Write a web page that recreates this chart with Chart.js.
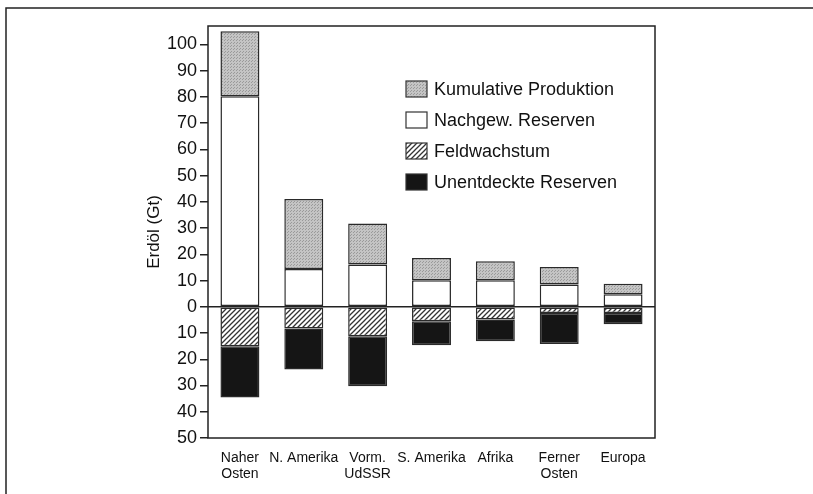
<!DOCTYPE html>
<html>
<head>
<meta charset="utf-8">
<script src="https://cdn.jsdelivr.net/npm/chart.js@4/dist/chart.umd.min.js"></script>
<style>
  body { margin: 0; background: #fff; }
  #wrap { width: 813px; height: 494px; }
</style>
</head>
<body>
<div id="wrap"><canvas id="chart" width="813" height="494"></canvas></div>
<script>
// Erdöl nach Regionen (Gt)
const regions = [['Naher', 'Osten'], 'N. Amerika', ['Vorm.', 'UdSSR'], 'S. Amerika', 'Afrika', ['Ferner', 'Osten'], 'Europa'];
const nachgewReserven = [80.2, 14.4, 16.1, 10.1, 10.1, 8.5, 4.8];
const kumulativeProduktion = [24.8, 26.7, 15.6, 8.5, 7.3, 6.7, 4.0];
const feldwachstum = [-15.0, -8.3, -11.2, -5.5, -4.8, -2.4, -2.4];
const unentdeckt = [-19.6, -15.6, -19.1, -9.2, -8.3, -11.8, -4.3];
const tickValues = [-50, -40, -30, -20, -10, 0, 10, 20, 30, 40, 50, 60, 70, 80, 90, 100];

const FONT = '"Liberation Sans", Arial, Helvetica, sans-serif';

// dotted grey fill for cumulative production
function dotPattern() {
    const c = document.createElement('canvas');
    c.width = 3; c.height = 3;
    const g = c.getContext('2d');
    g.fillStyle = '#c4c4c4';
    g.fillRect(0, 0, 3, 3);
    g.fillStyle = '#9a9a9a';
    g.fillRect(0, 0, 1, 1);
    g.fillRect(2, 1, 1, 1);
    return g.createPattern(c, 'repeat');
}

// diagonal hatching for field growth
function hatchPattern() {
    const c = document.createElement('canvas');
    c.width = 5; c.height = 5;
    const g = c.getContext('2d');
    g.fillStyle = '#fff';
    g.fillRect(0, 0, 5, 5);
    g.strokeStyle = '#333';
    g.lineWidth = 1.3;
    g.beginPath();
    g.moveTo(-1, 6); g.lineTo(6, -1);
    g.moveTo(-1, 1); g.lineTo(1, -1);
    g.moveTo(4, 6); g.lineTo(6, 4);
    g.stroke();
    return g.createPattern(c, 'repeat');
}

const legendOrder = [1, 0, 2, 3];

// frame lines, plot box and legend
const framePlugin = {
    id: 'frame',
    beforeDraw(chart) {
        const ctx = chart.ctx;
        ctx.save();
        ctx.fillStyle = '#fff';
        ctx.fillRect(0, 0, chart.width, chart.height);
        ctx.strokeStyle = '#222';
        ctx.lineWidth = 1.5;
        ctx.beginPath();
        ctx.moveTo(6, 494); ctx.lineTo(6, 8); ctx.lineTo(813, 8);
        ctx.stroke();
        ctx.restore();
    },
    afterDraw(chart) {
        const ctx = chart.ctx;
        const a = chart.chartArea;
        ctx.save();
        ctx.strokeStyle = '#222';
        ctx.lineWidth = 1.5;
        ctx.strokeRect(a.left, a.top, a.right - a.left, a.bottom - a.top);

        // legend
        ctx.font = '18px ' + FONT;
        ctx.textBaseline = 'middle';
        legendOrder.forEach((di, i) => {
            const ds = chart.data.datasets[di];
            const y = 89 + i * 31;
            ctx.fillStyle = ds.backgroundColor;
            ctx.fillRect(406, y - 8, 21, 16);
            ctx.strokeStyle = '#333';
            ctx.lineWidth = 1.2;
            ctx.strokeRect(406, y - 8, 21, 16);
            ctx.fillStyle = '#111';
            ctx.fillText(ds.label, 434, y + 1);
        });
        ctx.restore();
    }
};

const ctx = document.getElementById('chart').getContext('2d');
new Chart(ctx, {
    type: 'bar',
    data: {
        labels: regions,
        datasets: [
            {
                label: 'Nachgew. Reserven',
                data: nachgewReserven,
                backgroundColor: '#ffffff'
            },
            {
                label: 'Kumulative Produktion',
                data: kumulativeProduktion,
                backgroundColor: dotPattern()
            },
            {
                label: 'Feldwachstum',
                data: feldwachstum,
                backgroundColor: hatchPattern()
            },
            {
                label: 'Unentdeckte Reserven',
                data: unentdeckt,
                backgroundColor: '#151515'
            }
        ]
    },
    options: {
        responsive: false,
        animation: false,
        layout: { padding: { left: 140, right: 158, top: 26, bottom: 0 } },
        datasets: {
            bar: {
                borderColor: '#2a2a2a',
                borderWidth: 1.5,
                borderSkipped: false,
                barPercentage: 0.61,
                categoryPercentage: 1
            }
        },
        scales: {
            x: {
                stacked: true,
                grid: { display: false },
                border: { display: false },
                ticks: {
                    color: '#111',
                    font: { family: FONT, size: 14, lineHeight: 1.08 },
                    padding: 5,
                    maxRotation: 0,
                    autoSkip: false
                },
                afterFit(scale) { scale.height = 56; }
            },
            y: {
                stacked: true,
                min: -50,
                max: 107,
                afterBuildTicks(scale) {
                    scale.ticks = tickValues.map(v => ({ value: v }));
                },
                afterFit(scale) { scale.width = 68; },
                border: { display: false },
                grid: {
                    drawOnChartArea: true,
                    color: c => (c.tick && c.tick.value === 0) ? '#222' : 'rgba(0,0,0,0)',
                    lineWidth: 1.5,
                    tickColor: '#222',
                    tickLength: 8
                },
                ticks: {
                    color: '#111',
                    font: { family: FONT, size: 18 },
                    padding: 3,
                    callback: v => Math.abs(v)
                },
                title: {
                    display: true,
                    text: 'Erdöl (Gt)',
                    color: '#111',
                    font: { family: FONT, size: 17 },
                    padding: { top: 4, bottom: 4 }
                }
            }
        },
        plugins: {
            legend: { display: false },
            tooltip: { enabled: false }
        }
    },
    plugins: [framePlugin]
});
</script>
</body>
</html>
